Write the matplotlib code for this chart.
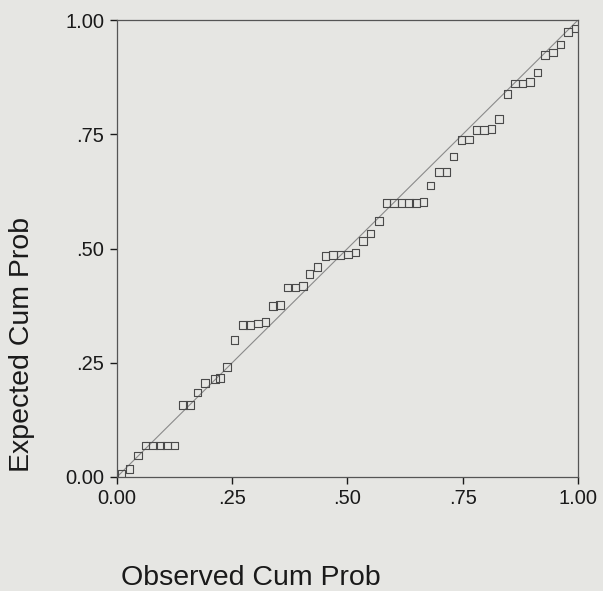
import numpy as np
import matplotlib.pyplot as plt

plt.rcParams['font.family'] = ['Liberation Sans', 'DejaVu Sans']

# Normal P-P plot: observed vs expected cumulative probability
observed = [0.010, 0.027, 0.045, 0.062, 0.078, 0.093, 0.109, 0.125, 0.143, 0.159,
            0.175, 0.191, 0.212, 0.224, 0.238, 0.255, 0.273, 0.289, 0.306, 0.322,
            0.338, 0.354, 0.370, 0.387, 0.404, 0.418, 0.435, 0.452, 0.469, 0.485,
            0.501, 0.517, 0.534, 0.550, 0.568, 0.585, 0.601, 0.617, 0.633, 0.649,
            0.665, 0.680, 0.698, 0.715, 0.730, 0.747, 0.764, 0.780, 0.796, 0.812,
            0.829, 0.847, 0.863, 0.880, 0.896, 0.912, 0.929, 0.946, 0.962, 0.978,
            0.996]
expected = [0.007, 0.018, 0.047, 0.069, 0.069, 0.069, 0.069, 0.069, 0.158, 0.158,
            0.185, 0.206, 0.214, 0.216, 0.240, 0.300, 0.333, 0.333, 0.336, 0.339,
            0.374, 0.376, 0.415, 0.415, 0.418, 0.444, 0.460, 0.484, 0.486, 0.486,
            0.487, 0.491, 0.517, 0.533, 0.560, 0.599, 0.599, 0.599, 0.599, 0.599,
            0.602, 0.638, 0.667, 0.667, 0.701, 0.737, 0.739, 0.759, 0.759, 0.761,
            0.783, 0.838, 0.861, 0.861, 0.864, 0.885, 0.923, 0.929, 0.947, 0.974,
            0.982]
ticks = [0, 0.25, 0.5, 0.75, 1.0]
tick_labels = ['0.00', '.25', '.50', '.75', '1.00']

bg = '#e6e6e3'
fig = plt.figure(figsize=(6.03, 5.91), dpi=100, facecolor=bg)
ax = fig.add_axes([0.194, 0.193, 0.7645, 0.773])
ax.set_facecolor(bg)

ax.plot([0, 1], [0, 1], color='#8a8a8a', lw=0.8, zorder=1)
ax.scatter(observed, expected, marker='s', s=30, facecolors='none',
           edgecolors='#4a4a4a', linewidths=0.8, zorder=2)

ax.set_xlim(0, 1)
ax.set_ylim(0, 1)
ax.set_xticks(ticks)
ax.set_xticklabels(tick_labels)
ax.set_yticks(ticks)
ax.set_yticklabels(tick_labels)
ax.tick_params(direction='out', length=5, width=1, colors='#1a1a1a',
               labelsize=14.5, pad=4)
for s in ax.spines.values():
    s.set_color('#555555')
    s.set_linewidth(0.9)

ax.set_xlabel('Observed Cum Prob', fontsize=20.5, color='#1a1a1a')
ax.set_ylabel('Expected Cum Prob', fontsize=20.5, color='#1a1a1a')
ax.xaxis.label.set_verticalalignment('baseline')
ax.xaxis.set_label_coords(0.29, -0.236)
ax.yaxis.set_label_coords(-0.178, 0.29)

fig.savefig('out.png', dpi=100, facecolor=bg)
